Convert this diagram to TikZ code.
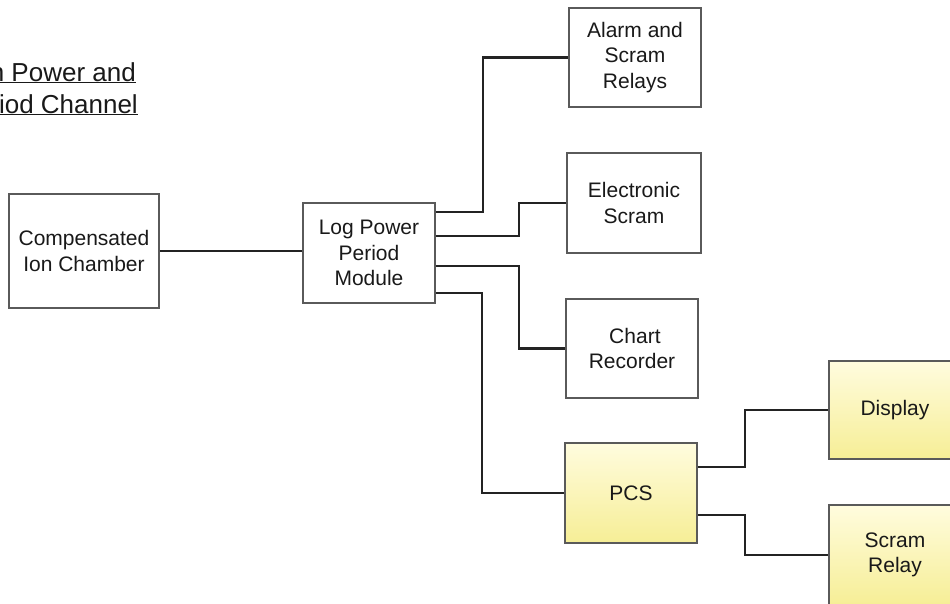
\documentclass[tikz,border=0pt]{standalone}
\usepackage{fontspec}
\setmainfont{Liberation Sans}
\usetikzlibrary{calc}
\definecolor{boxline}{RGB}{90,90,90}
\definecolor{wireline}{RGB}{35,35,35}
\definecolor{yeltop}{RGB}{255,252,222}
\definecolor{yelbot}{RGB}{246,238,150}
\tikzset{
  blockbox/.style={draw=boxline, line width=1.5pt, fill=white, rectangle, align=center,
    inner sep=2pt, font=\fontsize{21}{25.5}\selectfont, text=black!90},
  yelbox/.style={blockbox, top color=yeltop, bottom color=yelbot},
  wire/.style={draw=wireline, line width=2.3pt},
  titletext/.style={font=\fontsize{26}{30}\selectfont, text=black!90, inner sep=0pt}
}
\begin{document}
\begin{tikzpicture}[x=1pt,y=-1pt]
\useasboundingbox (0,0) rectangle (950,603);
\clip (0,0) rectangle (950,603);
\fill[white] (0,0) rectangle (950,603);

% title (cut at left edge)
\node[titletext, anchor=base east] (t1) at (136,81) {\underline{n Power and}};
\node[titletext, anchor=base east] (t2) at (138,113) {\underline{iod Channel}};

% blocks
\node[blockbox, minimum width=150pt, minimum height=114pt] (cic) at (84,251) {Compensated\\Ion Chamber};
\node[blockbox, minimum width=132pt, minimum height=100pt] (lpp) at (369,253) {Log Power\\Period\\Module};
\node[blockbox, minimum width=132pt, minimum height=99pt] (alarm) at (635,57.5) {Alarm and\\Scram\\Relays};
\node[blockbox, minimum width=134pt, minimum height=100pt] (elec) at (634,203) {Electronic\\Scram};
\node[blockbox, minimum width=132pt, minimum height=99pt] (chart) at (632,348.5) {\ Chart\\Recorder};
\node[yelbox, minimum width=132pt, minimum height=100pt] (pcs) at (631,493) {PCS};
\node[yelbox, minimum width=132pt, minimum height=98pt] (disp) at (895,410) {Display};
\node[yelbox, minimum width=132pt, minimum height=100pt] (scr) at (895,555) {Scram\\Relay};

% connectors
\draw[wire] (cic.east) -- (cic.east -| lpp.west);
\draw[wire] (lpp.east |- 0,212) -- (483,212) |- (alarm.west);
\draw[wire] (lpp.east |- 0,236) -- (519,236) |- (elec.west);
\draw[wire] (lpp.east |- 0,266) -- (519,266) |- (chart.west);
\draw[wire] (lpp.east |- 0,293) -- (482,293) |- (pcs.west);
\draw[wire] (pcs.east |- 0,467) -- (745,467) |- (disp.west);
\draw[wire] (pcs.east |- 0,515) -- (745,515) |- (scr.west);
\end{tikzpicture}
\end{document}
